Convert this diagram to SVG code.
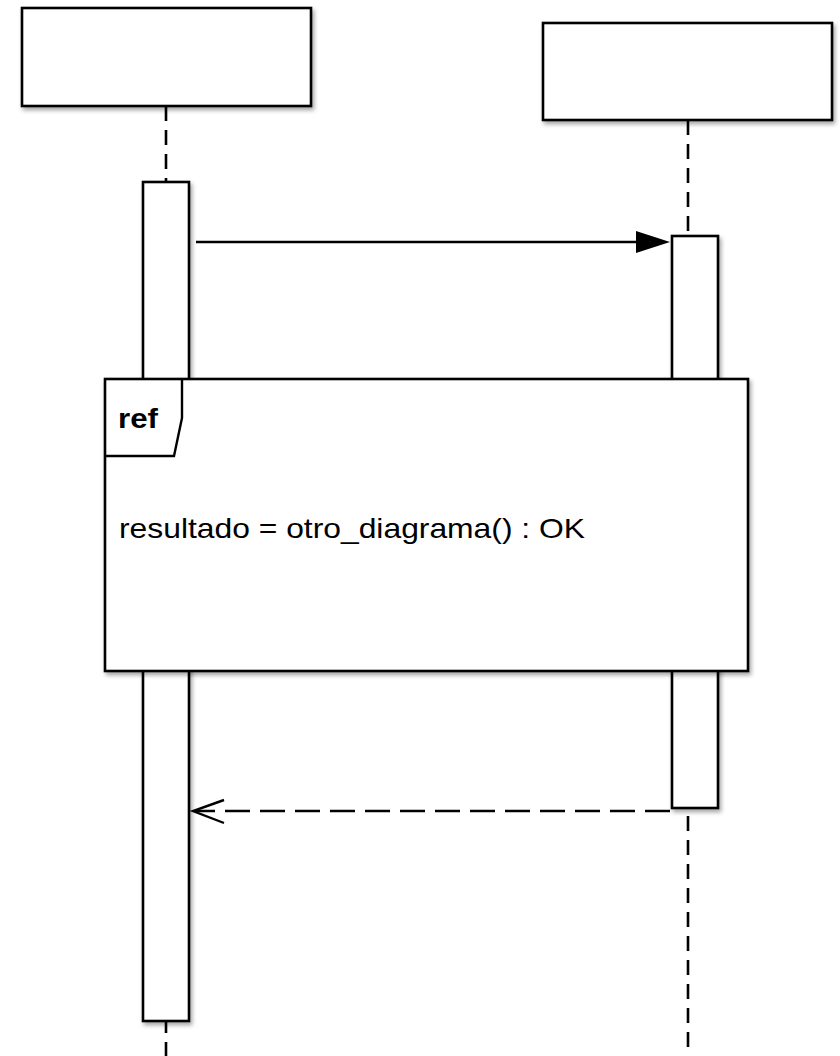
<svg xmlns="http://www.w3.org/2000/svg" width="840" height="1056" viewBox="0 0 840 1056">
  <style>
    .box { fill: #ffffff; stroke: #000000; stroke-width: 2.6; }
    .life { fill: none; stroke: #000000; stroke-width: 2.6; stroke-dasharray: 15 9; }
    .msg { fill: none; stroke: #000000; stroke-width: 2.4; }
    .ret { fill: none; stroke: #000000; stroke-width: 2.4; stroke-dasharray: 25 10; }
    .label { font-family: "Liberation Sans", Arial, sans-serif; font-size: 28px; fill: #000000; }
    .tag { font-family: "Liberation Sans", Arial, sans-serif; font-size: 28px; font-weight: bold; fill: #000000; }
  </style>
  <defs>
    <filter id="shadow" x="-10%" y="-10%" width="130%" height="130%">
      <feDropShadow dx="2" dy="3" stdDeviation="2.2" flood-color="#000000" flood-opacity="0.35"/>
    </filter>
  </defs>

  <!-- lifelines -->
  <g id="lifelines">
    <line class="life" x1="166" y1="106" x2="166" y2="1056"/>
    <line class="life" x1="688" y1="120" x2="688" y2="1056"/>
  </g>

  <!-- participant heads -->
  <g id="participant-a">
    <rect class="box" filter="url(#shadow)" x="22" y="8" width="289" height="98"/>
  </g>
  <g id="participant-b">
    <rect class="box" filter="url(#shadow)" x="543" y="23" width="289" height="97"/>
  </g>

  <!-- activation bars -->
  <g id="activation-a">
    <rect class="box" filter="url(#shadow)" x="143" y="182" width="46" height="839"/>
  </g>
  <g id="activation-b">
    <rect class="box" filter="url(#shadow)" x="672" y="236" width="46" height="572"/>
  </g>

  <!-- interaction use frame -->
  <g id="ref-frame">
    <rect class="box" filter="url(#shadow)" x="105" y="379" width="643" height="292"/>
    <path class="msg" d="M105,456 L174,456 L182,418 L182,379"/>
    <text class="tag" x="118" y="428" textLength="40" lengthAdjust="spacingAndGlyphs">ref</text>
    <text class="label" x="119" y="538" textLength="466" lengthAdjust="spacingAndGlyphs">resultado = otro_diagrama() : OK</text>
  </g>

  <!-- messages -->
  <g id="connectors">
    <line class="msg" x1="196" y1="242" x2="640" y2="242"/>
    <polygon points="636,231 670,242 636,253" fill="#000000"/>
    <line class="ret" x1="670" y1="811" x2="196" y2="811"/>
    <polyline class="msg" points="224,800 193,811 224,823"/>
  </g>
</svg>
